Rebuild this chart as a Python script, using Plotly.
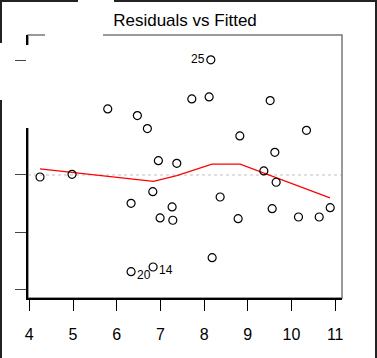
import plotly.graph_objects as go

# ---- data (Residuals vs Fitted) ----
fitted = [8.154, 7.719, 8.115, 9.512, 5.795, 6.473, 6.702, 8.818, 10.343, 9.619,
          6.954, 7.375, 4.245, 4.978, 9.367, 9.649, 6.826, 6.329, 8.367, 7.268,
          9.558, 10.886, 6.993, 7.284, 8.779, 10.160, 10.634, 8.184, 6.329, 6.833]
residuals = [2.01, 1.327, 1.362, 1.299, 1.152, 1.036, 0.810, 0.681, 0.780, 0.396,
             0.250, 0.204, -0.035, 0.012, 0.070, -0.127, -0.291, -0.494, -0.384, -0.558,
             -0.588, -0.571, -0.750, -0.790, -0.763, -0.733, -0.733, -1.443, -1.688, -1.606]

smooth_x = [4.245, 6.84, 7.375, 8.18, 8.825, 10.88]
smooth_y = [0.105, -0.11, -0.012, 0.19, 0.19, -0.40]

label_names = ["25", "20", "14"]
label_x = [8.154, 6.329, 6.833]
label_y = [2.01, -1.688, -1.606]
label_side = ["left", "right", "right"]

x_ticks = [4, 5, 6, 7, 8, 9, 10, 11]
y_ticks = [-2, -1, 0, 1, 2]

FONT = "Liberation Sans, Arial, Helvetica, sans-serif"

fig = go.Figure()
fig.add_trace(go.Scatter(
    x=smooth_x, y=smooth_y, mode="lines",
    line=dict(color="#ff0000", width=1.2), hoverinfo="skip", showlegend=False))
fig.add_trace(go.Scatter(
    x=fitted, y=residuals, mode="markers",
    marker=dict(symbol="circle-open", size=8, color="black", line=dict(width=1.2)),
    showlegend=False))

annotations = []
for name, lx, ly, side in zip(label_names, label_x, label_y, label_side):
    annotations.append(dict(
        x=lx, y=ly, text=name, showarrow=False,
        xanchor="right" if side == "left" else "left",
        xshift=-4 if side == "left" else 4,
        yshift=1 if side == "left" else -3,
        font=dict(family=FONT, size=12, color="black")))

W, H = 377, 358
L, R, T, B = 28, 35, 35, 60
pw, ph = W - L - R, H - T - B


def px(xp):
    return (xp - L) / pw


def py(yp):
    return (H - B - yp) / ph


shapes = [
    # zero reference line
    dict(type="line", xref="paper", yref="y", x0=0, x1=1, y0=0, y1=0,
         line=dict(color="#c0c0c0", width=1, dash="dot"), layer="below"),
    # plot box (gray)
    dict(type="rect", xref="paper", yref="paper", x0=0, x1=1, y0=0, y1=1,
         line=dict(color="#7a7a7a", width=1.5), layer="below"),
    # outer frame
    dict(type="rect", xref="paper", yref="paper", x0=px(1), x1=px(376), y0=py(1), y1=py(370),
         line=dict(color="#222222", width=2), layer="above"),
]
# white occluding patches seen in the reference
for x0, x1, y0, y1 in [(78, 114, -3, 30), (45, 103, 30, 45), (26, 45, 45, 100),
                       (14, 45, 100, 128), (-3, 4, 43, 100)]:
    shapes.append(dict(type="rect", xref="paper", yref="paper",
                       x0=px(x0), x1=px(x1), y0=py(y1), y1=py(y0),
                       fillcolor="white", line=dict(width=0), layer="above"))

fig.update_layout(
    width=W, height=H,
    margin=dict(l=L, r=R, t=T, b=B, pad=0),
    paper_bgcolor="white", plot_bgcolor="white",
    font=dict(family=FONT, color="black"),
    title=dict(text="Residuals vs Fitted", x=0.5, xref="paper", xanchor="center",
               y=1 - 20 / H, yref="container", yanchor="middle",
               font=dict(family=FONT, size=17, color="black")),
    xaxis=dict(range=[3.970, 11.156], tickvals=x_ticks, ticks="outside", ticklen=11,
               tickcolor="black", tickwidth=1, showline=True, linecolor="black",
               linewidth=1.5, showgrid=False, zeroline=False,
               tickfont=dict(family=FONT, size=16, color="black"), ticklabelstandoff=10),
    yaxis=dict(range=[-2.147, 2.443], tickvals=y_ticks, ticks="outside", ticklen=11,
               tickcolor="#444444", tickwidth=1, showline=True, linecolor="black",
               linewidth=1.5, showgrid=False, zeroline=False, showticklabels=False),
    shapes=shapes,
    annotations=annotations,
)

fig.write_html("out.html",
               config={"displayModeBar": False},
               post_script="document.body.style.margin='0';document.body.style.overflow='hidden';")
